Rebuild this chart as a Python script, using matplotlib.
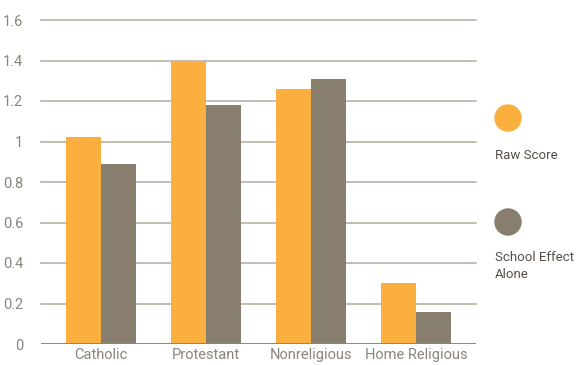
import numpy as np
import matplotlib.pyplot as plt
from matplotlib.patches import Ellipse

categories = ["Catholic", "Protestant", "Nonreligious", "Home Religious"]
raw_score = [1.02, 1.40, 1.26, 0.30]
school_effect = [0.89, 1.18, 1.31, 0.16]
series_names = ["Raw Score", "School Effect\nAlone"]
yticks = [0, 0.2, 0.4, 0.6, 0.8, 1, 1.2, 1.4, 1.6]
ytick_labels = ["0", "0.2", "0.4", "0.6", "0.8", "1", "1.2", "1.4", "1.6"]

ORANGE = "#FBAF3F"
TAUPE = "#877E6D"
GRID = "#B8B0A6"
TEXT = "#8A857D"

plt.rcParams['font.family'] = ['Roboto', 'DejaVu Sans']


def main():
    fig = plt.figure(figsize=(5.78, 3.65), dpi=100)
    ax = fig.add_axes([41 / 578, 21 / 365, 435 / 578, 324 / 365])

    x = np.arange(len(categories))
    w = 1 / 3
    ax.bar(x - w / 2, raw_score, w, color=ORANGE, zorder=3)
    ax.bar(x + w / 2, school_effect, w, color=TAUPE, zorder=3)

    ax.set_xlim(-0.571, 3.571)
    ax.set_ylim(0, 1.6)
    ax.set_yticks(yticks)
    ax.set_yticklabels(ytick_labels)
    ax.set_xticks(x)
    ax.set_xticklabels(categories)
    ax.tick_params(length=0, labelsize=10.5, labelcolor=TEXT)
    ax.tick_params(axis='y', pad=13)
    ax.tick_params(axis='x', pad=3)

    for t in yticks[1:]:
        ax.axhline(t, color=GRID, lw=1.2, zorder=1, clip_on=False)
    ax.axhline(0, color="#8F8676", lw=1.4, zorder=4)

    for s in ax.spines.values():
        s.set_visible(False)

    # legend: dot above the label
    colors = [ORANGE, TAUPE]
    dot_y = [1 - 118 / 365, 1 - 222 / 365]
    txt_y = [1 - 149 / 365, 1 - 251 / 365]
    for c, name, dy, ty in zip(colors, series_names, dot_y, txt_y):
        fig.patches.append(Ellipse((508 / 578, dy), 26 / 578, 26 / 365, color=c,
                                   transform=fig.transFigure, figure=fig))
        fig.text(495 / 578, ty, name, fontsize=9.5, color="#55504A",
                 va="top", ha="left", linespacing=1.35)

    fig.savefig("out.png", dpi=100)


if __name__ == '__main__':
    main()
